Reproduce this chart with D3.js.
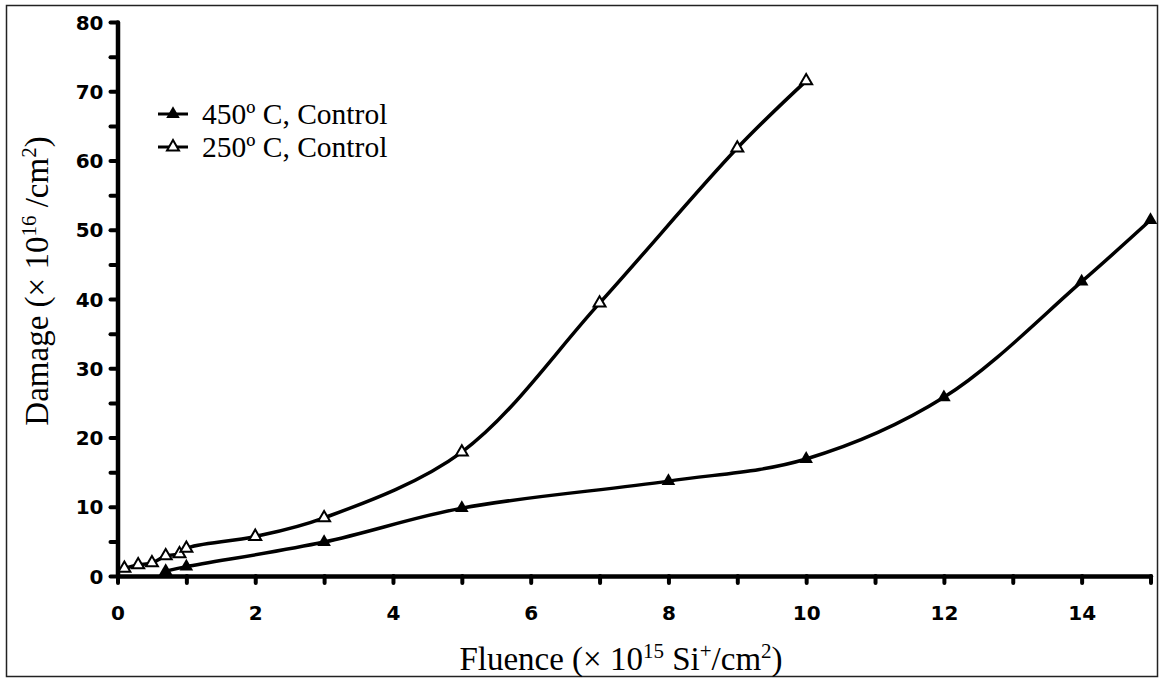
<!DOCTYPE html>
<html>
<head>
<meta charset="utf-8">
<script src="https://cdn.jsdelivr.net/npm/d3@7"></script>
<style>
  body { margin: 0; background: #fff; }
  svg { display: block; }
  .axis path, .axis line { stroke: #000; stroke-linecap: round; }
  .title { font-family: "Liberation Serif", "Times New Roman", serif; fill: #000; }
</style>
</head>
<body>
<svg></svg>
<script>
let w = 1160;
let h = 681;

// data
const fluence450 = [0.7, 1, 3, 5, 8, 10, 12, 14, 15];
const damage450 = [0.7, 1.35, 4.9, 9.8, 13.7, 16.9, 25.8, 42.5, 51.4];

const fluence250 = [0.1, 0.3, 0.5, 0.7, 0.9, 1, 2, 3, 5, 7, 9, 10];
const damage250 = [1.1, 1.6, 1.9, 2.9, 3.2, 4.0, 5.7, 8.4, 17.9, 39.4, 61.8, 71.5];

const seriesNames = ['450º C, Control', '250º C, Control'];
const xTicks = d3.range(0, 16, 1);
const yTicks = d3.range(0, 81, 5);

const svg = d3.select('svg')
  .attr('width', w)
  .attr('height', h)

// frame
svg.append('rect')
  .attr('x', 6.5).attr('y', 5.5)
  .attr('width', 1151).attr('height', 671)
  .attr('fill', 'none')
  .attr('stroke', '#222')
  .attr('stroke-width', 1.5)

// Scales
const xScale = d3.scaleLinear().domain([0, 15]).range([117.5, 1150.5])
const yScale = d3.scaleLinear().domain([0, 80]).range([576, 22])

const labelStyle = sel => sel
  .style('font-family', '"DejaVu Sans", sans-serif')
  .style('font-weight', 'bold')
  .style('font-size', '20px')
  .style('fill', '#000')

// Axes
const xAxis = d3.axisBottom(xScale)
  .tickValues(xTicks)
  .tickSize(7)
  .tickSizeOuter(0)
  .tickFormat(d => d % 2 === 0 ? String(d) : '')

const gx = svg.append('g')
  .attr('class', 'axis')
  .attr('transform', 'translate(0,' + yScale(0) + ')')
  .call(xAxis)
gx.select('.domain').attr('stroke-width', 4.5)
gx.selectAll('.tick line').attr('stroke-width', 4)
gx.selectAll('.tick text')
  .attr('y', 37)
  .attr('dy', '0.36em')
  .call(labelStyle)

const yAxis = d3.axisLeft(yScale)
  .tickValues(yTicks)
  .tickSize(7)
  .tickSizeOuter(0)
  .tickFormat(d => d % 10 === 0 ? String(d) : '')

const gy = svg.append('g')
  .attr('class', 'axis')
  .attr('transform', 'translate(' + xScale(0) + ',0)')
  .call(yAxis)
gy.select('.domain').attr('stroke-width', 4.5)
gy.selectAll('.tick line').attr('stroke-width', 4)
gy.selectAll('.tick text')
  .attr('x', -14)
  .attr('dy', '0.36em')
  .call(labelStyle)

// Lines
const line = d3.line()
  .x(d => xScale(d[0]))
  .y(d => yScale(d[1]))
  .curve(d3.curveCatmullRom.alpha(0.5))

const data450 = fluence450.map((f, i) => [f, damage450[i]])
const data250 = fluence250.map((f, i) => [f, damage250[i]])

svg.append('path')
  .datum(data450)
  .attr('d', line)
  .attr('fill', 'none')
  .attr('stroke', '#000')
  .attr('stroke-width', 3.5)

svg.append('path')
  .datum(data250)
  .attr('d', line)
  .attr('fill', 'none')
  .attr('stroke', '#000')
  .attr('stroke-width', 3.5)

svg.selectAll('.m450')
  .data(data450)
  .enter()
  .append('path')
  .attr('class', 'm450')
  .attr('d', d3.symbol().type(d3.symbolTriangle).size(80))
  .attr('transform', d => 'translate(' + xScale(d[0]) + ',' + yScale(d[1]) + ')')
  .attr('fill', '#000')

svg.selectAll('.m250')
  .data(data250)
  .enter()
  .append('path')
  .attr('class', 'm250')
  .attr('d', d3.symbol().type(d3.symbolTriangle).size(62))
  .attr('transform', d => 'translate(' + xScale(d[0]) + ',' + yScale(d[1]) + ')')
  .attr('fill', '#fff')
  .attr('stroke', '#000')
  .attr('stroke-width', 2)

// Legend
const legend = svg.append('g')
seriesNames.forEach((name, i) => {
  const ly = 114 + i * 33
  legend.append('line')
    .attr('x1', 158).attr('x2', 188)
    .attr('y1', ly).attr('y2', ly)
    .attr('stroke', '#000').attr('stroke-width', 3)
  legend.append('path')
    .attr('d', d3.symbol().type(d3.symbolTriangle).size(i === 0 ? 80 : 62))
    .attr('transform', 'translate(173,' + ly + ')')
    .attr('fill', i === 0 ? '#000' : '#fff')
    .attr('stroke', '#000')
    .attr('stroke-width', i === 0 ? 0 : 2)
  legend.append('text')
    .attr('class', 'title')
    .attr('x', 202)
    .attr('y', ly + 10)
    .attr('font-size', 29.5)
    .text(name)
})

// Axis titles
const xt = svg.append('text')
  .attr('class', 'title')
  .attr('x', 621)
  .attr('y', 670)
  .attr('text-anchor', 'middle')
  .attr('font-size', 33)
xt.append('tspan').text('Fluence (× 10')
xt.append('tspan').attr('font-size', 21).attr('dy', -12).text('15')
xt.append('tspan').attr('dy', 12).text(' Si')
xt.append('tspan').attr('font-size', 21).attr('dy', -12).text('+')
xt.append('tspan').attr('dy', 12).text('/cm')
xt.append('tspan').attr('font-size', 21).attr('dy', -12).text('2')
xt.append('tspan').attr('dy', 12).text(')')

const yt = svg.append('text')
  .attr('class', 'title')
  .attr('transform', 'translate(48,281) rotate(-90)')
  .attr('text-anchor', 'middle')
  .attr('font-size', 33)
yt.append('tspan').text('Damage (× 10')
yt.append('tspan').attr('font-size', 21).attr('dy', -12).text('16')
yt.append('tspan').attr('dy', 12).text(' /cm')
yt.append('tspan').attr('font-size', 21).attr('dy', -12).text('2')
yt.append('tspan').attr('dy', 12).text(')')
</script>
</body>
</html>
